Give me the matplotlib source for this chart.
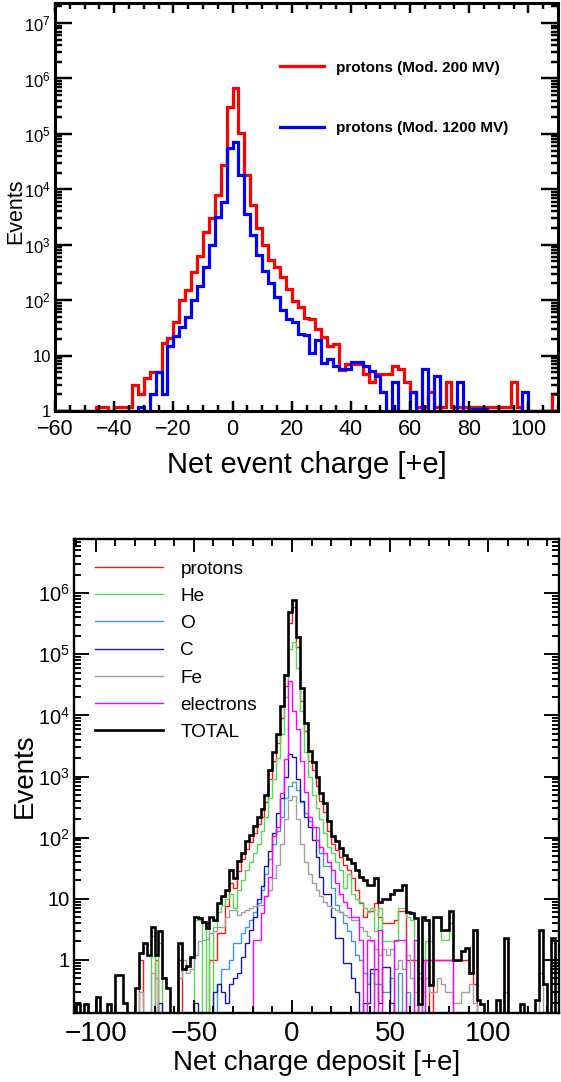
import numpy as np
import matplotlib
matplotlib.use("Agg")
import matplotlib.pyplot as plt
from matplotlib.lines import Line2D
from matplotlib.ticker import MultipleLocator, LogLocator, FuncFormatter, NullFormatter

plt.rcParams['font.family'] = ['Liberation Sans', 'DejaVu Sans']
plt.rcParams['mathtext.fontset'] = 'custom'
plt.rcParams['mathtext.rm'] = 'Liberation Sans'
plt.rcParams['mathtext.it'] = 'Liberation Sans'
plt.rcParams['mathtext.bf'] = 'Liberation Sans:bold'

# ---- top panel: net event charge, bins of 2 from -60 to 110 ----
top_edges = np.arange(-60, 112, 2)
top_labels = ["protons (Mod. 200 MV)", "protons (Mod. 1200 MV)"]
p200 = [0, 0, 0, 0, 0, 0, 0, 1.2, 1.2, 0,
        1.2, 1.2, 1.2, 3, 2, 4, 5, 5, 17, 21,
        40, 100, 150, 320, 620, 1700, 3000, 8000, 2.8e4, 3e5,
        6.8e5, 1.05e5, 1.8e4, 5200, 2000, 1000, 530, 400, 260, 160,
        95, 75, 48, 45, 30, 22, 15, 16, 5.5, 7,
        7, 7, 4.6, 3.3, 4.6, 4.6, 4.6, 6.6, 5.7, 3.3,
        2.2, 1.2, 1.2, 2.2, 1.2, 1.2, 3.3, 1.2, 1.2, 1.2,
        1.2, 1.2, 1.2, 1.2, 1.2, 1.2, 1.2, 3.3, 1.2, 0,
        0, 0, 0, 0, 2]
p1200 = [0, 0, 0, 0, 0, 0, 0, 0, 0, 0,
         0, 0, 0, 0, 1.2, 0, 2, 5, 2, 15,
         23, 33, 50, 100, 180, 400, 1000, 3200, 6000, 5.6e4,
         7e4, 1.8e4, 3600, 1500, 650, 330, 200, 115, 66, 46,
         40, 25, 24, 11, 19, 7.4, 8.7, 6.6, 5.7, 5.7,
         7.6, 7.6, 6.6, 5.3, 4.3, 2.2, 0, 3.3, 0, 0,
         2.2, 0, 5.7, 0, 4.3, 0, 0, 0, 3.3, 0,
         1.1, 1.1, 1.1, 0, 0, 0, 0, 0, 0, 2.2,
         0, 0, 0, 0, 0]

# ---- bottom panel: net charge deposit, bins of 2 from -112 to 136 ----
bot_edges = np.arange(-112, 138, 2)
bot_labels = ["protons", "He", "O", "C", "Fe", "electrons", "TOTAL"]
protons = [0, 0, 0, 0, 0, 0, 0, 0, 0, 0,
           0, 0, 0, 0, 0, 0, 0, 1.0, 0, 0,
           0, 1.0, 0, 0, 0, 0, 0, 1.0, 0, 0,
           0, 0, 0, 0, 0, 1.0, 1.0, 2.7, 2.7, 7.5,
           18, 15, 28, 45, 65, 85, 120, 170, 220, 380,
           900, 1800, 3500, 9000, 3e4, 3.3e5, 6e5, 1.3e5, 1.7e4, 5500,
           1800, 1300, 700, 400, 260, 130, 80, 62, 48, 36,
           30, 22, 14, 8.5, 5.1, 6.2, 6.2, 8.5, 5.1, 4,
           4, 4, 4.5, 6.2, 6.2, 1, 1, 1, 0, 1,
           1, 0, 1, 1, 1, 1, 1, 1, 1, 1,
           1, 0.6, 0.4, 0, 0, 0, 0, 0, 0, 0,
           2.2, 0, 0, 0, 0, 0, 0, 0, 0, 0,
           0, 0, 0, 0]
helium = [0, 0, 0, 0, 0, 0, 0, 0, 0, 0,
          0, 0, 0, 0, 0, 0, 0, 0, 0, 0,
          2.5, 0, 1.9, 0, 0, 0, 0, 0, 0, 0,
          0, 4.5, 4.5, 0, 4, 0, 3.5, 6, 8, 10,
          12, 7, 14, 20, 30, 40, 55, 80, 130, 220,
          450, 900, 2000, 5000, 2e4, 1.2e5, 1.6e5, 6e4, 1.2e4, 2500,
          1000, 500, 300, 200, 120, 70, 55, 40, 30, 15,
          25, 12, 10, 9, 7, 6, 7, 3, 7, 2,
          2, 2, 2, 7, 7, 5, 4.5, 0, 0, 0,
          2, 2, 5, 5, 2.1, 2.1, 4, 0, 0, 0,
          0, 0, 0, 0, 0, 0, 0, 0, 0, 0,
          0, 0, 0, 0, 0, 0, 0, 0, 0, 0,
          0, 0, 1.9, 0]
oxygen = [0, 0, 0, 0, 0, 0, 0, 0, 0, 0,
          0, 0, 0, 0, 0, 0, 0, 0, 0, 0,
          0, 0, 0, 0, 0, 0, 0, 0, 0, 0,
          0, 0, 0, 0, 0, 0, 0, 0.4, 0.7, 0.7,
          1.0, 1.9, 1.9, 2.7, 3.5, 4.5, 6, 8.5, 14, 25,
          45, 80, 130, 220, 440, 700, 800, 600, 380, 250,
          190, 150, 150, 56, 34, 34, 15, 8, 6, 4,
          3, 2, 1.2, 1, 0.6, 0.4, 0.6, 0.4, 0.4, 0.3,
          0.3, 0.5, 0, 0.6, 0, 0.3, 0, 0, 0.6, 0,
          0, 0, 0, 0, 0, 0, 0, 0, 0, 0,
          0, 0, 0, 0, 0, 0, 0, 0, 0, 0,
          0, 0, 0, 0, 0, 0, 0, 0, 0, 0,
          0, 0, 0, 0]
carbon = [0, 0, 0, 0, 0, 0, 0, 0, 0, 0,
          0, 0, 0, 0, 0, 0, 0, 0, 0, 0,
          0, 0, 0.2, 0, 0, 0, 0, 0, 0, 0,
          0, 0.2, 0, 0, 0, 0, 0.3, 0.4, 0.3, 0.2,
          0.4, 0.5, 0.6, 1.1, 1.9, 3.1, 5, 10, 16, 34,
          60, 120, 250, 450, 1000, 2300, 2100, 900, 400, 220,
          150, 93, 49, 23, 12, 12, 5.1, 2.3, 2.3, 0.9,
          0.9, 0.5, 0.3, 0, 0.2, 0.2, 0.7, 0.7, 0.2, 0.77,
          0.77, 0.2, 0, 0, 0, 0, 0, 0, 0, 0,
          0, 0, 0, 0, 0, 0, 0, 0, 0, 0,
          0, 0, 0, 0, 0, 0, 0, 0, 0, 0,
          0, 0, 0, 0, 0, 0, 0, 0, 0, 0,
          0, 0, 0, 0]
iron = [0, 0, 0, 0, 0, 0, 0, 0, 0, 0,
        0, 0, 0, 0, 0, 0, 0, 0.3, 0, 0,
        0.6, 0.5, 0, 0, 0, 0, 0, 0.5, 1.0, 0.6,
        0.7, 1.2, 2, 2.1, 2.2, 2.7, 3, 3.5, 3.5, 5,
        6.6, 6.5, 5.5, 6, 6.6, 7, 7.5, 8, 8, 11,
        14, 22, 35, 80, 200, 420, 480, 200, 80, 40,
        25, 18, 14, 11, 9, 7.5, 7, 6.5, 6, 5.5,
        5, 4.5, 4.5, 3.5, 3, 2.5, 2, 1.5, 1.2, 1.5,
        1.2, 1.5, 0.7, 1, 0.7, 1.2, 0.5, 0.3, 0.5, 0.3,
        0.5, 0.3, 0.3, 0.5, 0.4, 0.3, 0.3, 0.2, 0.2, 0.3,
        0.3, 0.4, 0.2, 0, 0, 0, 0, 0, 0, 0,
        0.3, 0, 0, 0, 0, 0, 0, 0, 0, 0.6,
        0, 0, 0, 0]
electrons = [0, 0, 0, 0, 0, 0, 0, 0, 0, 0,
             0, 0, 0, 0, 0, 0, 0, 0, 0, 0,
             0, 0, 0, 0, 0, 0, 0, 0, 0, 0,
             0, 0, 0, 0, 0, 0, 0, 0, 0, 0,
             0, 0, 0, 0, 0, 0, 2.1, 2.1, 5.8, 11,
             23, 105, 150, 540, 1900, 3.6e4, 1.2e4, 6000, 1800, 550,
             220, 150, 93, 70, 56, 40, 30, 18, 12, 9,
             7, 5.1, 5.1, 2.1, 0, 2.1, 2.1, 0, 3.1, 0,
             0, 0, 2.1, 2.1, 2.1, 0, 0, 2.1, 0, 0,
             1, 1, 1, 1, 1, 1, 1, 0, 0, 0,
             0, 0, 0, 0, 0, 0, 0, 0, 0, 0,
             0, 0, 0, 0, 0, 0, 0, 0, 0, 0,
             0, 0, 0, 0]
total = [0, 0.19, 0, 0.19, 0, 0, 0.25, 0, 0, 0.19,
         0, 0.57, 0.57, 0.2, 0, 0, 0.35, 1.3, 1.9, 1.2,
         3.5, 1.2, 3.0, 0.5, 0.35, 0, 0, 1.9, 0.7, 0.8,
         1.1, 5, 4.8, 4.2, 3.3, 5, 4.5, 8.5, 11, 14,
         30, 22, 41, 56, 87, 111, 154, 220, 290, 500,
         1260, 2500, 5000, 1.4e4, 4.5e4, 5e5, 7.6e5, 1.9e5, 2.8e4, 7600,
         2600, 1700, 1000, 540, 370, 185, 105, 87, 68, 52,
         45, 38, 30, 23, 20, 17, 17, 22, 9, 10,
         10, 12, 14, 14, 17, 6, 5.8, 4.8, 0.19, 5.1,
         4.5, 0.39, 5.1, 5.1, 3.1, 3.1, 6.2, 1, 1, 1.4,
         1.55, 0.6, 3.1, 0.22, 0.19, 0, 0, 0, 0.22, 0,
         2.3, 0, 0, 0, 0.19, 0, 0, 0, 0.22, 3.1,
         0.4, 0, 2.3, 0]

fig = plt.figure(figsize=(5.61, 10.82), dpi=100)
W, H = 561.0, 1082.0


def log_label(v, pos):
    if v <= 0:
        return ''
    n = int(round(np.log10(v)))
    if n < 0 or abs(v - 10.0 ** n) > 1e-6 * v:
        return ''
    if n == 0:
        return '1'
    if n == 1:
        return '10'
    return r'$10^{%d}$' % n


def style_axes(ax, spine_w, ymaj, ymin_len, xmaj, xmin_len, xfs, yfs):
    for s in ax.spines.values():
        s.set_linewidth(spine_w)
    ax.set_yscale('log')
    ax.yaxis.set_major_locator(LogLocator(base=10, numticks=20))
    ax.yaxis.set_minor_locator(LogLocator(base=10, subs=np.arange(2, 10), numticks=20))
    ax.yaxis.set_major_formatter(FuncFormatter(log_label))
    ax.yaxis.set_minor_formatter(NullFormatter())
    ax.tick_params(axis='both', which='both', direction='in', top=True, right=True,
                   width=spine_w * 0.8)
    ax.tick_params(axis='y', which='major', length=ymaj, labelsize=yfs, pad=3)
    ax.tick_params(axis='y', which='minor', length=ymin_len)
    ax.tick_params(axis='x', which='major', length=xmaj, labelsize=xfs, pad=6)
    ax.tick_params(axis='x', which='minor', length=xmin_len)


# top panel
ax1 = fig.add_axes([55 / W, 1 - 411 / H, 503 / W, 408 / H])
ymin1 = 1.0
ax1.stairs(np.clip(p200, ymin1, None), top_edges, color='#ff0000', lw=2.3, baseline=None)
ax1.stairs(np.clip(p1200, ymin1, None), top_edges, color='#0000ff', lw=2.3, baseline=None)
ax1.set_xlim(-60, 110)
ax1.set_ylim(ymin1, 2.3e7)
ax1.xaxis.set_major_locator(MultipleLocator(20))
ax1.xaxis.set_minor_locator(MultipleLocator(5))
style_axes(ax1, 2.2, 12, 5, 7, 4, 15.5, 12)
ax1.set_xlabel("Net event charge [+e]", fontsize=21, labelpad=8)
ax1.set_ylabel("Events", fontsize=15.5, labelpad=0)
ax1.yaxis.set_label_coords(-0.058, 0.49)
h1 = [Line2D([], [], color='#ff0000', lw=2.3), Line2D([], [], color='#0000ff', lw=2.3)]
ax1.legend(h1, top_labels, loc='upper left', bbox_to_anchor=(0.447, 0.859),
           frameon=False, borderpad=0, borderaxespad=0, handlelength=2.9,
           handletextpad=0.75, labelspacing=3.05, prop={'size': 11, 'weight': 'bold'})

# bottom panel
ax2 = fig.add_axes([74 / W, 1 - 1013 / H, 485 / W, 474 / H])
ymin2 = 0.135
colors = ['#ff1a1a', '#55d855', '#3d9ad8', '#1a1a9a', '#a0a0a0', '#ff00ff', '#000000']
series = [protons, helium, oxygen, carbon, iron, electrons, total]
widths = [1.0, 1.0, 1.0, 1.0, 1.0, 1.0, 1.9]
for vals, c, w in zip(series, colors, widths):
    ax2.stairs(np.clip(vals, ymin2, None), bot_edges, color=c, lw=w, baseline=None)
ax2.set_xlim(-111, 136)
ax2.set_ylim(ymin2, 7.7e6)
ax2.xaxis.set_major_locator(MultipleLocator(50))
ax2.xaxis.set_minor_locator(MultipleLocator(10))
style_axes(ax2, 1.7, 11, 5, 9.5, 5, 20, 14.5)
ax2.set_xlabel("Net charge deposit [+e]", fontsize=20, labelpad=2)
ax2.set_ylabel("Events", fontsize=20, labelpad=0)
h2 = [Line2D([], [], color=c, lw=w) for c, w in zip(colors, widths)]
ax2.legend(h2, bot_labels, loc='upper left', bbox_to_anchor=(0.043, 0.955),
           frameon=False, borderpad=0, borderaxespad=0, handlelength=3.6,
           handletextpad=0.9, labelspacing=0.52, prop={'size': 13.7})

fig.savefig("out.png", dpi=100)
